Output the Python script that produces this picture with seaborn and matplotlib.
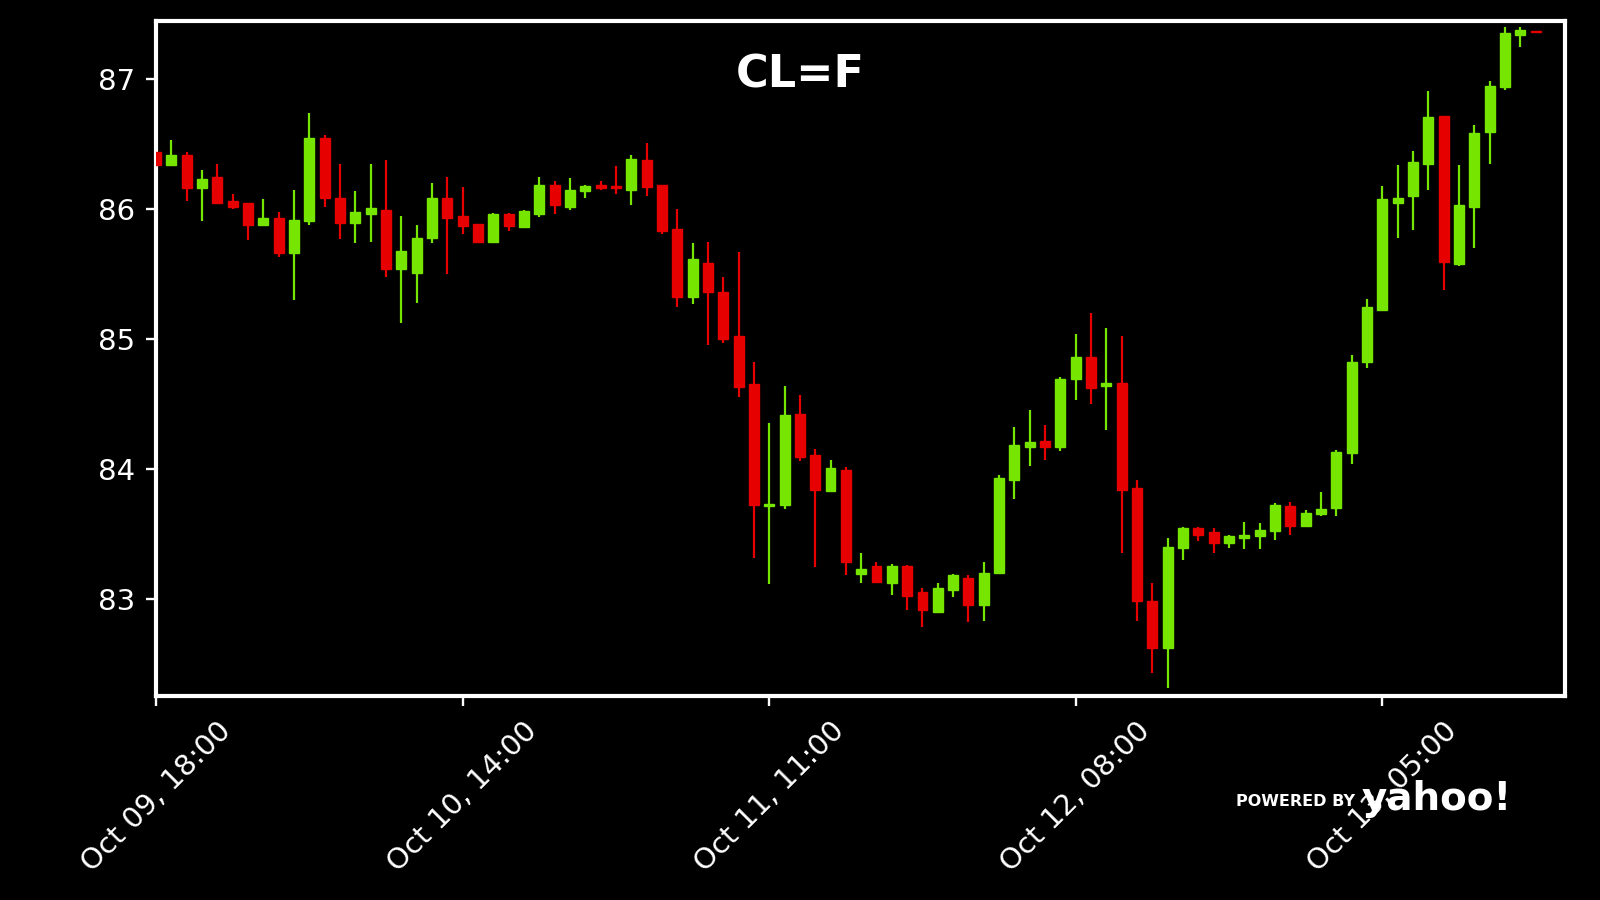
# Candlestick-Chart CL=F (Rohöl-Future, Stundenkerzen)

import matplotlib
matplotlib.use("Agg")
import matplotlib.pyplot as plt
import seaborn as sns
import numpy as np


eroeffnung = [86.44, 86.34, 86.42, 86.16, 86.25, 86.06, 86.05, 85.88, 85.93, 85.66,
              85.91, 86.55, 86.09, 85.89, 85.96, 85.99, 85.54, 85.51, 85.78, 86.09,
              85.95, 85.885, 85.75, 85.96, 85.86, 85.96, 86.19, 86.02, 86.14, 86.185,
              86.18, 86.15, 86.38, 86.185, 85.85, 85.32, 85.585, 85.36, 85.02, 84.65,
              83.71, 83.72, 84.42, 84.11, 83.83, 83.99, 83.19, 83.25, 83.12, 83.255,
              83.05, 82.90, 83.065, 83.16, 82.95, 83.20, 83.91, 84.165, 84.215, 84.17,
              84.695, 84.86, 84.64, 84.66, 83.85, 82.985, 82.62, 83.39, 83.545, 83.515,
              83.43, 83.47, 83.48, 83.52, 83.715, 83.56, 83.65, 83.70, 84.12, 84.82,
              85.22, 86.05, 86.10, 86.35, 86.715, 85.58, 86.02, 86.595, 86.94, 87.34,
              87.375]
hoch = [86.44, 86.53, 86.44, 86.30, 86.35, 86.12, 86.05, 86.08, 85.98, 86.15,
        86.74, 86.57, 86.35, 86.14, 86.35, 86.38, 85.95, 85.88, 86.20, 86.25,
        86.17, 85.885, 85.97, 85.97, 85.99, 86.25, 86.22, 86.24, 86.185, 86.22,
        86.33, 86.415, 86.51, 86.185, 86.00, 85.74, 85.75, 85.48, 85.67, 84.82,
        84.35, 84.64, 84.57, 84.15, 84.07, 84.015, 83.35, 83.28, 83.27, 83.26,
        83.08, 83.12, 83.19, 83.18, 83.28, 83.95, 84.32, 84.45, 84.34, 84.71,
        85.04, 85.20, 85.085, 85.02, 83.915, 83.12, 83.47, 83.55, 83.55, 83.545,
        83.49, 83.59, 83.585, 83.74, 83.745, 83.68, 83.82, 84.145, 84.88, 85.31,
        86.18, 86.34, 86.45, 86.91, 86.72, 86.34, 86.65, 86.985, 87.40, 87.40,
        87.375]
tief = [86.34, 86.34, 86.06, 85.91, 86.04, 86.00, 85.76, 85.88, 85.63, 85.30,
        85.88, 86.02, 85.77, 85.74, 85.75, 85.48, 85.12, 85.28, 85.74, 85.50,
        85.81, 85.74, 85.74, 85.83, 85.86, 85.94, 85.96, 85.99, 86.09, 86.15,
        86.12, 86.03, 86.10, 85.81, 85.25, 85.27, 84.95, 84.97, 84.55, 83.31,
        83.11, 83.69, 84.06, 83.24, 83.82, 83.18, 83.12, 83.12, 83.03, 82.91,
        82.78, 82.895, 83.01, 82.82, 82.83, 83.19, 83.77, 84.02, 84.07, 84.14,
        84.53, 84.50, 84.30, 83.35, 82.83, 82.43, 82.31, 83.295, 83.44, 83.35,
        83.39, 83.38, 83.38, 83.45, 83.49, 83.555, 83.64, 83.64, 84.04, 84.78,
        85.22, 85.78, 85.84, 86.15, 85.38, 85.56, 85.70, 86.35, 86.915, 87.25,
        87.365]
schluss = [86.34, 86.415, 86.16, 86.23, 86.05, 86.02, 85.88, 85.93, 85.66, 85.92,
           86.55, 86.09, 85.89, 85.98, 86.01, 85.54, 85.68, 85.78, 86.09, 85.93,
           85.87, 85.75, 85.96, 85.87, 85.985, 86.19, 86.03, 86.15, 86.18, 86.165,
           86.165, 86.39, 86.17, 85.83, 85.32, 85.615, 85.36, 85.00, 84.63, 83.72,
           83.73, 84.415, 84.09, 83.84, 84.01, 83.28, 83.23, 83.13, 83.255, 83.02,
           82.91, 83.085, 83.18, 82.95, 83.20, 83.93, 84.18, 84.21, 84.17, 84.69,
           84.86, 84.62, 84.66, 83.84, 82.98, 82.62, 83.40, 83.545, 83.49, 83.43,
           83.48, 83.49, 83.53, 83.72, 83.56, 83.66, 83.69, 84.13, 84.82, 85.25,
           86.08, 86.09, 86.36, 86.71, 85.595, 86.03, 86.59, 86.95, 87.36, 87.38,
           87.365]

# Beschriftung der x-Achse (alle 20 Kerzen)
tick_beschriftungen = ["Oct 09, 18:00", "Oct 10, 14:00", "Oct 11, 11:00",
                       "Oct 12, 08:00", "Oct 13, 05:00"]
y_ticks = [83, 84, 85, 86, 87]

gruen = "#76e600"
rot = "#e60000"


# Stil festlegen
sns.set_theme(style="ticks", rc={
    "axes.facecolor": "black",
    "figure.facecolor": "black",
    "axes.edgecolor": "white",
    "xtick.color": "white",
    "ytick.color": "white",
})
plt.rcParams["font.family"] = ["DejaVu Sans"]

o = np.array(eroeffnung)
h = np.array(hoch)
l = np.array(tief)
c = np.array(schluss)
x = np.arange(len(c))
farben = [gruen if cl >= op else rot for op, cl in zip(o, c)]

fig, ax = plt.subplots(figsize=(16, 9), dpi=100)
plt.subplots_adjust(left=0.0975, right=0.978, bottom=0.2267, top=0.9767)

# Dochte
ax.vlines(x, l, h, colors=farben, linewidth=1.6, zorder=2)
# Kerzenkörper
ax.bar(x, np.abs(c - o), bottom=np.minimum(o, c), width=0.65,
       color=farben, edgecolor=farben, linewidth=1, zorder=3)

ax.set_xlim(0, 91.9)
ax.set_ylim(82.25, 87.45)
ax.set_yticks(y_ticks)
ax.set_xticks(np.arange(0, len(c), 20))
ax.set_xticklabels(tick_beschriftungen, rotation=45)

for spine in ax.spines.values():
    spine.set_color("white")
    spine.set_linewidth(3)
ax.tick_params(colors="white", labelcolor="white", labelsize=21,
               length=7, width=1.7, pad=8)
ax.grid(False)

# Titel
fig.text(0.5, 0.917, "CL=F", ha="center", va="center", fontsize=32,
         fontweight="bold", color="white")

# Yahoo-Schriftzug
fig.text(0.847, 0.1044, "POWERED BY", ha="right", va="baseline", fontsize=11.5,
         fontweight="bold", color="white", zorder=10)
fig.text(0.851, 0.10, "yahoo!", ha="left", va="baseline", fontsize=28,
         fontweight="heavy", color="white", zorder=10)

plt.savefig("out.png", dpi=100, facecolor="black")
